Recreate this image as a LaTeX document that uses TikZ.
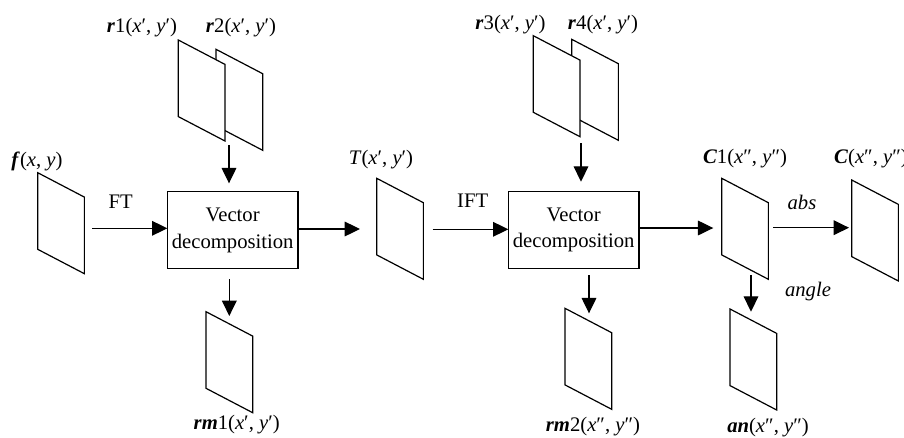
\documentclass[tikz,border=0pt]{standalone}
\usepackage{fontspec}
\setmainfont{Liberation Serif}
\usetikzlibrary{arrows.meta}
\newcommand\bi[1]{\textbf{\textit{#1}}}
% a sheet: parallelogram given by its top-left corner (px)
\newcommand\drawsheet[3]{%
  \node[sheetbox] (#1) at (#2+23.35,#3+50.5) {};
  \draw[sheetline] (#1.north west) -- ([yshift=-18.3pt]#1.north east)
    -- (#1.south east) -- ([yshift=18.3pt]#1.south west) -- cycle;}
\begin{document}
\begin{tikzpicture}[x=0.75pt,y=-0.75pt,
  font=\fontsize{15.5}{18}\selectfont,
  sheetbox/.style={minimum width=35pt, minimum height=75.75pt, inner sep=0pt, outer sep=0pt},
  sheetline/.style={draw=black, line width=0.9pt, fill=white, line join=miter},
  procbox/.style={draw=black, line width=0.9pt, inner sep=0pt, outer sep=0pt,
    minimum width=98pt, minimum height=57.8pt, align=center,
    font=\fontsize{15.5}{20}\selectfont},
  arr/.style={line width=0.9pt, -{Triangle[length=11.5pt,width=11pt]}},
  lbl/.style={inner sep=0pt}]
\useasboundingbox (0,0) rectangle (904,437);

% sheets (back ones first)
\drawsheet{r2}{216}{49.3}
\drawsheet{r1}{178.3}{40}
\drawsheet{r4}{571.7}{39.3}
\drawsheet{r3}{533.3}{35.7}
\drawsheet{f}{37.7}{172.7}
\drawsheet{T}{376.7}{178.3}
\drawsheet{C1}{721.7}{178.3}
\drawsheet{C}{851.7}{180}
\drawsheet{rm1}{206}{311.7}
\drawsheet{rm2}{565}{308.3}
\drawsheet{an}{730}{309}

% processing blocks
\node[procbox] (vd1) at (232.7,230.3) {Vector\\decomposition};
\node[procbox] (vd2) at (573.7,230) {Vector\\decomposition};

% free ends of the connectors
\coordinate (ftS) at (92.3,228.3);
\coordinate (tE) at (360,229);
\coordinate (iftS) at (432.7,229.3);
\coordinate (c1E) at (713.3,228);
\coordinate (absS) at (773.3,227.7);
\coordinate (absE) at (849,227.7);
\coordinate (angS) at (751,275);
\coordinate (angE) at (751,311.7);
\coordinate (r12S) at (229,145);
\coordinate (r12E) at (229,183.3);
\coordinate (rm1S) at (229.3,279);
\coordinate (rm1E) at (229.3,316);
\coordinate (r34S) at (581,143.3);
\coordinate (r34E) at (581,181.7);
\coordinate (rm2S) at (589,275);
\coordinate (rm2E) at (589,313.3);

% connectors
\draw[arr] (ftS) -- (vd1.west |- ftS);
\draw[arr] (vd1.east |- tE) -- (tE);
\draw[arr] (iftS) -- (vd2.west |- iftS);
\draw[arr] (vd2.east |- c1E) -- (c1E);
\draw[arr] (absS) -- (absE);
\draw[arr] (angS) -- (angE);
\draw[arr] (r12S) -- (r12E);
\draw[arr] (rm1S) -- (rm1E);
\draw[arr] (r34S) -- (r34E);
\draw[arr] (rm2S) -- (rm2E);

% labels
\node[lbl] (lf) at (37,161.7) {\bi{f}(\textit{x}, \textit{y})};
\node[lbl] (lr1) at (142,28) {\bi{r}1(\textit{x}′, \textit{y}′)};
\node[lbl] (lr2) at (241,28) {\bi{r}2(\textit{x}′, \textit{y}′)};
\node[lbl] (lr3) at (510.5,25) {\bi{r}3(\textit{x}′, \textit{y}′)};
\node[lbl] (lr4) at (603,25) {\bi{r}4(\textit{x}′, \textit{y}′)};
\node[lbl] (lT) at (381,160) {\textit{T}(\textit{x}′, \textit{y}′)};
\node[lbl] (lC1) at (745,159) {\bi{C}1(\textit{x}″, \textit{y}″)};
\node[lbl] (lC) at (871,159) {\bi{C}(\textit{x}″, \textit{y}″)};
\node[lbl] (lrm1) at (236.7,425) {\bi{rm}1(\textit{x}′, \textit{y}′)};
\node[lbl] (lrm2) at (593,427) {\bi{rm}2(\textit{x}″, \textit{y}″)};
\node[lbl] (lan) at (768,428) {\bi{an}(\textit{x}″, \textit{y}″)};
\node[lbl] (lft) at (120.7,201.5) {FT};
\node[lbl] (lift) at (472.7,201) {IFT};
\node[lbl] (labs) at (802,202) {\textit{abs}};
\node[lbl] (lang) at (808,292) {\textit{angle}};
\end{tikzpicture}
\end{document}
